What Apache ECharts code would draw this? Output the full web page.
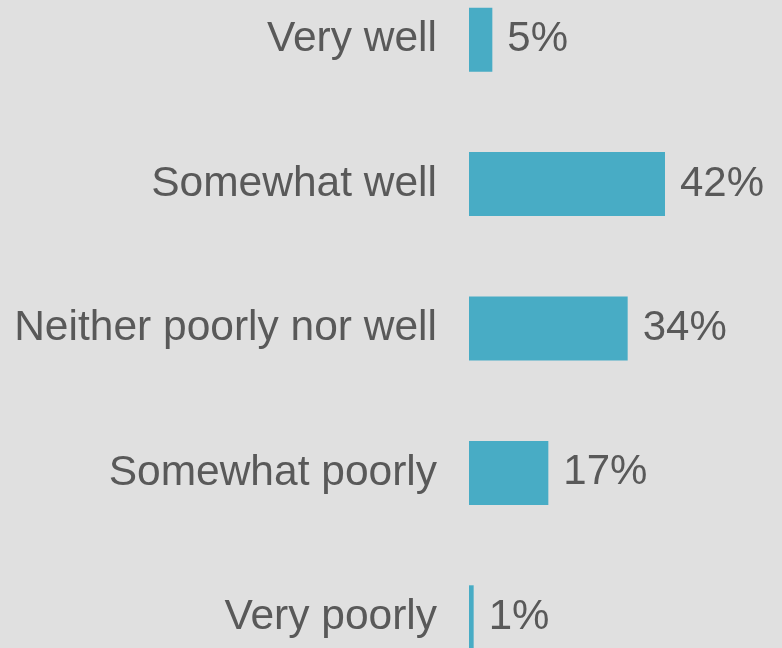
<!DOCTYPE html>
<html>
<head>
<meta charset="utf-8">
<script src="https://cdn.jsdelivr.net/npm/echarts@6/dist/echarts.min.js"></script>
<style>
  html, body { margin: 0; padding: 0; background: #e0e0e0; }
  #chart { width: 782px; height: 648px; }
</style>
</head>
<body>
<div id="chart"></div>
<script>
// Survey responses, top to bottom
const categories = ['Very well', 'Somewhat well', 'Neither poorly nor well', 'Somewhat poorly', 'Very poorly'];
const shares = [5, 42, 34, 17, 1];

const chart = echarts.init(document.getElementById('chart'), null, { renderer: 'canvas' });

chart.setOption({
  backgroundColor: '#e0e0e0',
  animation: false,
  grid: {
    left: 469, top: -32.5, width: 280, height: 722,
    containLabel: false, outerBoundsMode: 'none'
  },
  xAxis: {
    type: 'value', min: 0, max: 60, show: false
  },
  yAxis: {
    type: 'category',
    data: categories,
    inverse: true,
    axisLine: { show: false },
    axisTick: { show: false },
    axisLabel: {
      margin: 32,
      color: '#595959',
      fontFamily: 'Liberation Sans, Arial, sans-serif',
      fontSize: 42.5,
      padding: [0, 0, 13, 0]
    }
  },
  series: [{
    type: 'bar',
    data: shares,
    barWidth: 64,
    itemStyle: { color: '#48acc5' },
    label: {
      show: true,
      position: 'right',
      distance: 15,
      formatter: p => p.value + '%',
      color: '#595959',
      fontFamily: 'Liberation Sans, Arial, sans-serif',
      fontSize: 42
    }
  }]
});
</script>
</body>
</html>
